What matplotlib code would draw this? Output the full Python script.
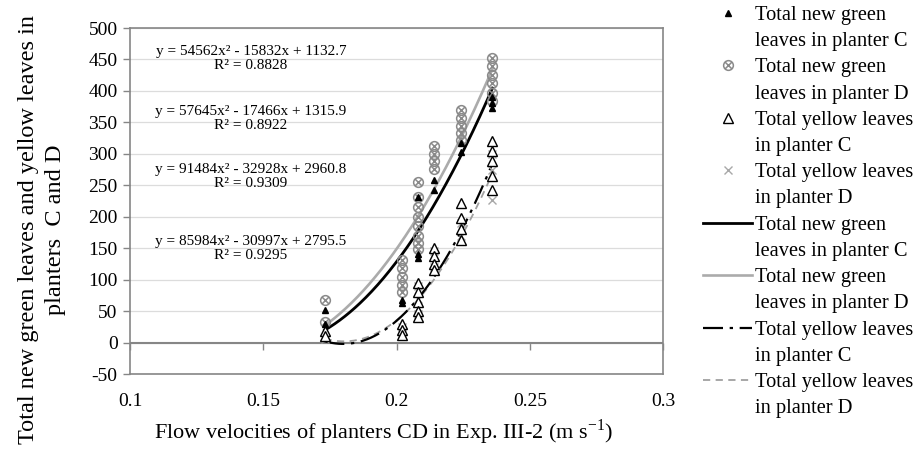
import matplotlib.pyplot as plt
import numpy as np
from matplotlib.path import Path
from matplotlib.lines import Line2D

plt.rcParams['font.family'] = ['Liberation Serif', 'DejaVu Serif']
plt.rcParams['mathtext.fontset'] = 'custom'
plt.rcParams['mathtext.rm'] = 'Liberation Serif'
plt.rcParams['axes.unicode_minus'] = False

# ---- data ----
# total new green leaves, planter C (filled triangles)
gc_x = [0.173, 0.173, 0.202, 0.202, 0.208, 0.208, 0.208, 0.214, 0.214,
        0.224, 0.224, 0.236, 0.236, 0.236]
gc_y = [51, 30, 63, 68, 232, 135, 140, 259, 243, 317, 303, 381, 373, 390]

# total new green leaves, planter D (circled x)
gd_x = [0.173, 0.173,
        0.202, 0.202, 0.202, 0.202, 0.202,
        0.208, 0.208, 0.208, 0.208, 0.208, 0.208, 0.208, 0.208,
        0.214, 0.214, 0.214, 0.214,
        0.224, 0.224, 0.224, 0.224, 0.224,
        0.236, 0.236, 0.236, 0.236, 0.236, 0.236]
gd_y = [67, 32,
        132, 118, 105, 92, 81,
        256, 232, 215, 200, 185, 170, 158, 148,
        312, 300, 288, 276,
        370, 357, 345, 333, 322,
        452, 439, 425, 412, 396, 384]

# total yellow leaves, planter C (open triangles)
yc_x = [0.173, 0.173,
        0.202, 0.202, 0.202,
        0.208, 0.208, 0.208, 0.208, 0.208,
        0.214, 0.214, 0.214, 0.214,
        0.224, 0.224, 0.224, 0.224,
        0.236, 0.236, 0.236, 0.236, 0.236]
yc_y = [18, 10,
        30, 20, 12,
        95, 80, 65, 50, 40,
        150, 138, 125, 115,
        222, 198, 180, 163,
        320, 304, 288, 264, 243]

# total yellow leaves, planter D (x)
yd_x = [0.173, 0.202, 0.202, 0.208, 0.208, 0.208, 0.208,
        0.214, 0.214, 0.224, 0.224, 0.236, 0.236, 0.236]
yd_y = [5, 25, 15, 90, 70, 55, 45, 145, 120, 190, 170, 300, 275, 227]

# trendline coefficients (a, b, c) as printed on the chart
fit_gc = [57645, -17466, 1315.9]
fit_gd = [54562, -15832, 1132.7]
fit_yc = [91484, -32928, 2960.8]
fit_yd = [85984, -30997, 2795.5]

eq_text = ['y = 54562x² - 15832x + 1132.7\nR² = 0.8828',
           'y = 57645x² - 17466x + 1315.9\nR² = 0.8922',
           'y = 91484x² - 32928x + 2960.8\nR² = 0.9309',
           'y = 85984x² - 30997x + 2795.5\nR² = 0.9295']
eq_ypos = [0.912, 0.738, 0.572, 0.364]

xticks = [0.1, 0.15, 0.2, 0.25, 0.3]
xtick_labels = ['0.1', '0.15', '0.2', '0.25', '0.3']
yticks = np.arange(-50, 501, 50)

labels = [('Total new green', 'leaves in planter C'),
          ('Total new green', 'leaves in planter D'),
          ('Total yellow leaves', 'in planter C'),
          ('Total yellow leaves', 'in planter D'),
          ('Total new green', 'leaves in planter C'),
          ('Total new green', 'leaves in planter D'),
          ('Total yellow leaves', 'in planter C'),
          ('Total yellow leaves', 'in planter D')]

# circled-x marker
circ = Path.unit_circle()
cross = Path([(-0.7, -0.7), (0.7, 0.7), (-0.7, 0.7), (0.7, -0.7)],
             [Path.MOVETO, Path.LINETO, Path.MOVETO, Path.LINETO])
otimes = Path.make_compound_path(circ, cross)

spine_col = '#868686'

fig = plt.figure(figsize=(9.19, 4.63), dpi=100)
ax = fig.add_axes([0.1415, 0.1922, 0.58, 0.7473])

ax.set_xlim(0.1, 0.3)
ax.set_ylim(-50, 500)
ax.set_yticks(yticks)
ax.set_xticks(xticks)
ax.set_xticklabels(xtick_labels)
ax.grid(axis='y', color='#dcdcdc', lw=0.9)
ax.set_axisbelow(True)
for s in ax.spines.values():
    s.set_color(spine_col)
    s.set_linewidth(1.2)
ax.tick_params(axis='y', labelsize=14, length=5, width=1, color=spine_col, pad=4)
ax.tick_params(axis='x', labelsize=14, length=0, pad=14)

# horizontal axis line at zero with its tick marks
ax.axhline(0, color=spine_col, lw=1.5, zorder=1)
sec = ax.secondary_xaxis(50 / 550)
sec.set_xticks(xticks)
sec.tick_params(axis='x', length=5, width=1, color=spine_col, labelbottom=False,
                direction='out')
sec.spines['bottom'].set_visible(False)

# trendlines
sty = {
    'gc': dict(color='black', lw=2.0, ls='-'),
    'gd': dict(color='#ababab', lw=1.9, ls='-'),
    'yc': dict(color='black', lw=1.6, ls=(0, (9, 3, 1.5, 3))),
    'yd': dict(color='#a0a0a0', lw=1.3, ls=(0, (4, 3))),
}
xs = np.linspace(min(gc_x), max(gc_x), 200)
ax.plot(xs, np.polyval(fit_gd, xs), zorder=3, **sty['gd'])
ax.plot(xs, np.polyval(fit_gc, xs), zorder=3, **sty['gc'])
ax.plot(xs, np.polyval(fit_yd, xs), zorder=3, **sty['yd'])
ax.plot(xs, np.polyval(fit_yc, xs), zorder=3, **sty['yc'])

# scatter points
mk = {
    'gc': dict(marker='^', ms=5, mfc='black', mec='black', ls='none'),
    'gd': dict(marker=otimes, ms=7, mfc='none', mec='#8a8a8a', mew=1.1, ls='none'),
    'yc': dict(marker='^', ms=7.5, mfc='white', mec='black', mew=1.0, ls='none'),
    'yd': dict(marker='x', ms=6, mec='#a8a8a8', mew=1.0, ls='none'),
}
ax.plot(yd_x, yd_y, zorder=4, **mk['yd'])
ax.plot(yc_x, yc_y, zorder=4, **mk['yc'])
ax.plot(gd_x, gd_y, zorder=5, **mk['gd'])
ax.plot(gc_x, gc_y, zorder=6, **mk['gc'])

for t, yp in zip(eq_text, eq_ypos):
    ax.text(0.227, yp, t, transform=ax.transAxes, ha='center', va='center',
            fontsize=11, linespacing=1.1)

fig.text(42 / 919, 1 - 230 / 463,
         'Total new green leaves and yellow leaves in\nplanters  C and D',
         rotation=90, ha='center', va='center', fontsize=17.5,
         multialignment='center', linespacing=1.35)
fig.text(383 / 919, 1 - 432 / 463,
         r'Flow velocities of planters CD in Exp. III-2 (m s$^{\mathregular{-1}}$)',
         ha='center', va='center', fontsize=16)

# legend: two text rows per entry, handle on the first row
proxies = [Line2D([], [], **mk['gc']), Line2D([], [], **mk['gd']),
           Line2D([], [], **mk['yc']), Line2D([], [], **mk['yd']),
           Line2D([], [], **sty['gc']), Line2D([], [], **sty['gd']),
           Line2D([], [], **sty['yc']), Line2D([], [], **sty['yd'])]
blank = Line2D([], [], ls='none')
handles, texts = [], []
for p, (l1, l2) in zip(proxies, labels):
    handles += [p, blank]
    texts += [l1, l2]
fig.legend(handles, texts, loc='upper left', bbox_to_anchor=(703 / 919, 0.988),
           frameon=False, fontsize=14.7, borderpad=0, borderaxespad=0,
           handlelength=2.4, handletextpad=0.15, labelspacing=0.34)

fig.savefig('out.png', dpi=100)
